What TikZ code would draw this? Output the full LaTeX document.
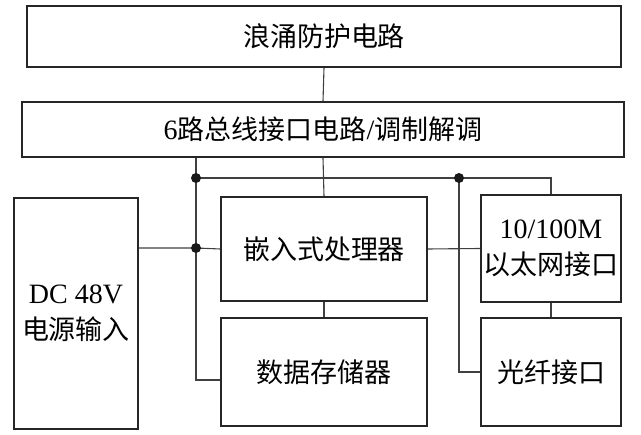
\documentclass[tikz,border=0pt]{standalone}
\usepackage{fontspec}
\setmainfont{Liberation Serif}
\newfontfamily\cjk{Noto Sans CJK SC}
\newcommand{\zh}[1]{{\cjk\fontsize{27}{36}\selectfont #1}}
\begin{document}
\begin{tikzpicture}
[x=1pt,y=-1pt,
  blockdecorate/.style={shape=rectangle,draw=black!85,line width=1.6pt,inner sep=0pt,%
    align=center,font=\fontsize{28}{36}\selectfont},%
  linedecorate/.style={-,draw=black!75,line width=1.1pt},%
  dotdecorate/.style={shape=circle,fill=black!90,inner sep=0pt,minimum size=10pt}]
\useasboundingbox (0,0) rectangle (641,435);
%% blocks
\node (surge) at (324,36.5) [blockdecorate,minimum width=594pt,minimum height=61pt] {\zh{浪涌防护电路}};
\node (bus) at (323,129.5) [blockdecorate,minimum width=602pt,minimum height=55pt] {6\zh{路总线接口电路}/\zh{调制解调}};
\node (power) at (76,313.5) [blockdecorate,minimum width=124pt,minimum height=231pt] {DC 48V\\\zh{电源输入}};
\node (cpu) at (324,249) [blockdecorate,minimum width=206pt,minimum height=104pt] {\zh{嵌入式处理器}};
\node (mem) at (324,372) [blockdecorate,minimum width=206pt,minimum height=108pt] {\zh{数据存储器}};
\node (eth) at (551,248.5) [blockdecorate,minimum width=140pt,minimum height=107pt] {10/100M\\\zh{以太网接口}};
\node (fiber) at (551,372) [blockdecorate,minimum width=140pt,minimum height=108pt] {\zh{光纤接口}};
%% junctions
\coordinate (jtop) at (196,178);
\coordinate (jpow) at (196,248);
\coordinate (jfib) at (459,178);
%% straight links
\path
\foreach \startnode/\endnode in {surge/bus, bus/cpu, cpu/mem, eth/fiber} {
  (\startnode.south) edge[linedecorate] (\endnode.north)
};
\draw[linedecorate] (cpu.east) -- (eth.west);
%% bus branches
\draw[linedecorate] (bus.south -| jtop) -- (jtop) -- (jpow) -- (196,380) -- ([yshift=-8pt]mem.west);
\draw[linedecorate] (jtop) -- (jtop -| eth.north) -- (eth.north);
\draw[linedecorate] (jfib) |- (fiber.west);
\draw[linedecorate] (power.east |- jpow) -- (jpow) -- (cpu.west);
\foreach \dotname in {jtop, jpow, jfib} {
  \node at (\dotname) [dotdecorate] {};
}
\end{tikzpicture}
\end{document}
